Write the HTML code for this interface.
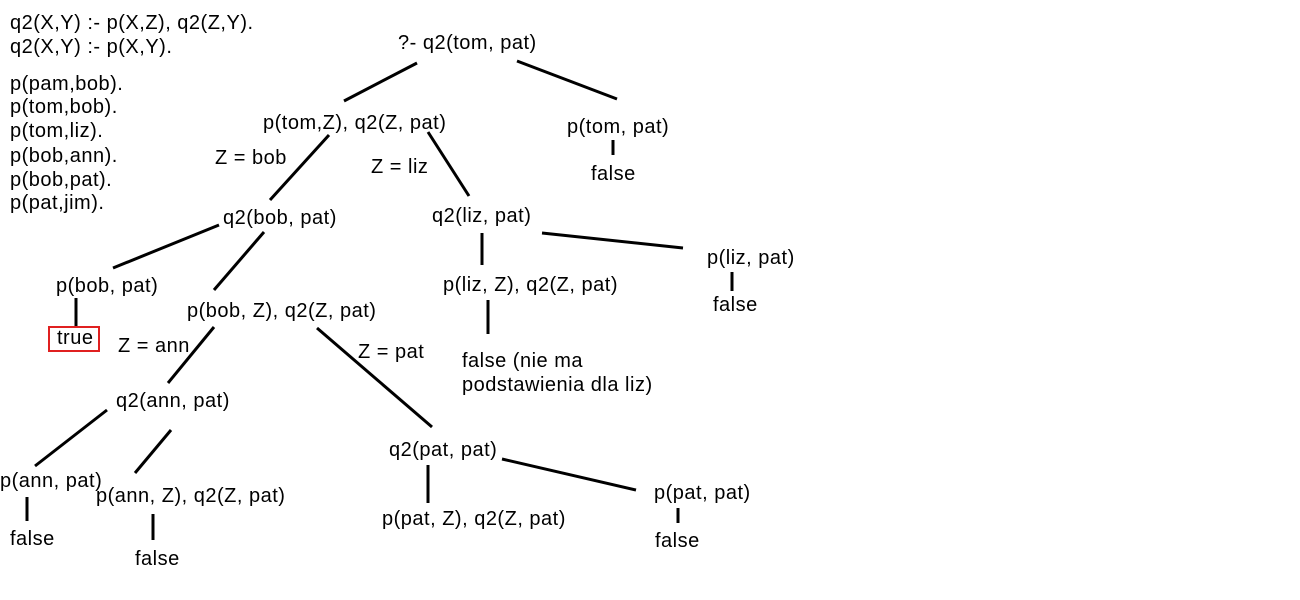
<!DOCTYPE html>
<html><head><meta charset="utf-8"><style>
html,body{margin:0;padding:0;background:#fff;}
svg{display:block;}
text{font-family:"Liberation Sans",Arial,sans-serif;font-size:20px;letter-spacing:0.5px;fill:#000;dominant-baseline:central;}
line{stroke:#000;stroke-width:3;}
</style></head><body>
<svg width="1300" height="600" viewBox="0 0 1300 600">
<rect width="1300" height="600" fill="#fff"/>
<g transform="translate(0,1)">
<text x="10" y="22">q2(X,Y) :- p(X,Z), q2(Z,Y).</text>
<text x="10" y="46">q2(X,Y) :- p(X,Y).</text>
<text x="10" y="83">p(pam,bob).</text>
<text x="10" y="106">p(tom,bob).</text>
<text x="10" y="130">p(tom,liz).</text>
<text x="10" y="155">p(bob,ann).</text>
<text x="10" y="179">p(bob,pat).</text>
<text x="10" y="202">p(pat,jim).</text>
</g>
<g>
<line x1="417" y1="63" x2="344" y2="101"/>
<line x1="517" y1="61" x2="617" y2="99"/>
<line x1="613" y1="140" x2="613" y2="155"/>
<line x1="329" y1="135" x2="270" y2="200"/>
<line x1="428" y1="132" x2="469" y2="196"/>
<line x1="219" y1="225" x2="113" y2="268"/>
<line x1="264" y1="232" x2="214" y2="290"/>
<line x1="542" y1="233" x2="683" y2="248"/>
<line x1="482" y1="233" x2="482" y2="265"/>
<line x1="732" y1="272" x2="732" y2="291"/>
<line x1="76" y1="298" x2="76" y2="326"/>
<line x1="488" y1="300" x2="488" y2="334"/>
<line x1="214" y1="327" x2="168" y2="383"/>
<line x1="317" y1="328" x2="432" y2="427"/>
<line x1="107" y1="410" x2="35" y2="466"/>
<line x1="171" y1="430" x2="135" y2="473"/>
<line x1="502" y1="459" x2="636" y2="490"/>
<line x1="428" y1="465" x2="428" y2="503"/>
<line x1="27" y1="497" x2="27" y2="521"/>
<line x1="153" y1="514" x2="153" y2="540"/>
<line x1="678" y1="508" x2="678" y2="523"/>
</g>
<g transform="translate(0,1)">
<text x="398" y="42">?- q2(tom, pat)</text>
<text x="263" y="122">p(tom,Z), q2(Z, pat)</text>
<text x="567" y="126">p(tom, pat)</text>
<text x="591" y="173">false</text>
<text x="215" y="157">Z = bob</text>
<text x="371" y="166">Z = liz</text>
<text x="223" y="217">q2(bob, pat)</text>
<text x="432" y="215">q2(liz, pat)</text>
<text x="707" y="257">p(liz, pat)</text>
<text x="713" y="304">false</text>
<text x="56" y="285">p(bob, pat)</text>
<text x="57" y="337">true</text>
<text x="187" y="310">p(bob, Z), q2(Z, pat)</text>
<text x="443" y="284">p(liz, Z), q2(Z, pat)</text>
<text x="462" y="360">false (nie ma</text>
<text x="462" y="384">podstawienia dla liz)</text>
<text x="118" y="345">Z = ann</text>
<text x="358" y="351">Z = pat</text>
<text x="116" y="400">q2(ann, pat)</text>
<text x="389" y="449">q2(pat, pat)</text>
<text x="0" y="480">p(ann, pat)</text>
<text x="96" y="495">p(ann, Z), q2(Z, pat)</text>
<text x="10" y="538">false</text>
<text x="135" y="558">false</text>
<text x="382" y="518">p(pat, Z), q2(Z, pat)</text>
<text x="654" y="492">p(pat, pat)</text>
<text x="655" y="540">false</text>
</g>
<rect x="49" y="327" width="50" height="24" fill="none" stroke="#e02020" stroke-width="2"/>
</svg>
</body></html>
